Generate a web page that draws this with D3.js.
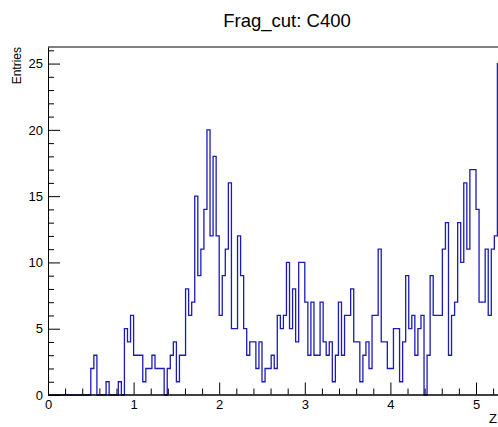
<!DOCTYPE html>
<html>
<head>
<meta charset="utf-8">
<script src="https://cdn.jsdelivr.net/npm/d3@7/dist/d3.min.js"></script>
<style>
  body { margin: 0; background: #fff; }
  svg { display: block; font-family: "Liberation Sans", Arial, Helvetica, sans-serif; }
  .tick text { font-size: 13px; fill: #000; }
</style>
</head>
<body>
<div id="main"></div>
<script>
// histogram binning (Z axis)
var binLow = 0;
var binWidth = 1 / 28;

// entries per bin
var counts = [
  0, 0, 0, 0, 0, 0, 0, 0, 0, 0, 0, 0, 0, 0,
  2, 3, 0, 0, 0, 1, 0, 0, 0, 1, 0, 5, 4, 6, 3, 3,
  3, 1, 2, 2, 3, 2, 2, 2, 0, 2, 3, 4, 1, 3, 3, 8,
  6, 7, 15, 9, 11, 14, 20, 12, 18, 12, 6, 9, 11, 16, 5, 5,
  12, 9, 5, 3, 4, 4, 2, 4, 1, 2, 2, 3, 2, 6, 5, 6,
  10, 5, 8, 4, 10, 10, 7, 3, 7, 3, 3, 7, 4, 3, 4, 1,
  3, 7, 3, 6, 6, 8, 4, 4, 1, 3, 4, 2, 6, 6, 11, 4,
  4, 2, 2, 5, 5, 1, 4, 9, 5, 6, 3, 5, 6, 0, 3, 9,
  6, 6, 6, 11, 13, 3, 6, 7, 13, 10, 16, 11, 17, 17, 14, 7,
  7, 11, 6, 11, 12, 25
];

// axis ticks
var xMajorTicks = [0, 1, 2, 3, 4, 5];
var xMinorTicks = [0.2, 0.4, 0.6, 0.8, 1.2, 1.4, 1.6, 1.8, 2.2, 2.4, 2.6, 2.8,
  3.2, 3.4, 3.6, 3.8, 4.2, 4.4, 4.6, 4.8, 5.2];
var yMajorTicks = [0, 5, 10, 15, 20, 25];
var yMinorTicks = [1, 2, 3, 4, 6, 7, 8, 9, 11, 12, 13, 14, 16, 17, 18, 19, 21, 22, 23, 24, 26];

var titleText = 'Frag_cut: C400';
var xTitle = 'Z';
var yTitle = 'Entries';

// layout
var svgWidth = 498;
var svgHeight = 427;
var frame = { l: 48, t: 47, b: 395 };
var pxPerUnit = 85.6;
var xMax = 5.3;
var yMax = 26.25;

var svg = d3.select('#main')
  .append('svg')
  .attr('width', svgWidth)
  .attr('height', svgHeight);

var xScale = d3.scaleLinear()
  .domain([0, xMax])
  .range([frame.l, frame.l + xMax * pxPerUnit]);

var yScale = d3.scaleLinear()
  .domain([0, yMax])
  .range([frame.b, frame.t]);

// histogram outline (step line)
var points = counts.map((c, i) => [binLow + i * binWidth, c]);
points.push([binLow + counts.length * binWidth, counts[counts.length - 1]]);
points.push([binLow + counts.length * binWidth, 0]);

svg.append('path')
  .attr('d', d3.line()
    .x((d) => xScale(d[0]))
    .y((d) => yScale(d[1]))
    .curve(d3.curveStepAfter)(points))
  .attr('fill', 'none')
  .attr('stroke', '#1c1cb4')
  .attr('stroke-width', 1.3);

// frame top line
svg.append('line')
  .attr('x1', frame.l).attr('x2', xScale(xMax))
  .attr('y1', frame.t).attr('y2', frame.t)
  .attr('stroke', '#000');

// x axis: major ticks with labels, minor ticks without
// (shifted half a pixel so the axis line sits on the histogram baseline)
var xAxisG = svg.append('g')
  .attr('transform', 'translate(0,' + (frame.b - 0.5) + ')')
  .call(d3.axisBottom(xScale)
    .tickValues(xMajorTicks)
    .tickFormat(d3.format('d'))
    .tickSizeInner(-12)
    .tickSizeOuter(0)
    .tickPadding(5));

svg.append('g')
  .attr('transform', 'translate(0,' + (frame.b - 0.5) + ')')
  .call(d3.axisBottom(xScale)
    .tickValues(xMinorTicks)
    .tickFormat('')
    .tickSizeInner(-6)
    .tickSizeOuter(0))
  .select('.domain').remove();

// y axis
svg.append('g')
  .attr('transform', 'translate(' + frame.l + ',0)')
  .call(d3.axisLeft(yScale)
    .tickValues(yMajorTicks)
    .tickFormat(d3.format('d'))
    .tickSizeInner(-12)
    .tickSizeOuter(0)
    .tickPadding(5));

svg.append('g')
  .attr('transform', 'translate(' + frame.l + ',0)')
  .call(d3.axisLeft(yScale)
    .tickValues(yMinorTicks)
    .tickFormat('')
    .tickSizeInner(-6)
    .tickSizeOuter(0))
  .select('.domain').remove();

svg.selectAll('.domain, .tick line').attr('stroke', '#000');

// thicker baseline so it covers the empty bins of the histogram
xAxisG.select('.domain').attr('stroke-width', 1.6);

// titles
svg.append('text')
  .text(titleText)
  .attr('x', 287)
  .attr('y', 27)
  .attr('text-anchor', 'middle')
  .style('font-size', '18.5px');

svg.append('text')
  .text(xTitle)
  .attr('x', 497)
  .attr('y', 423)
  .attr('text-anchor', 'end')
  .style('font-size', '13px');

svg.append('text')
  .text(yTitle)
  .attr('transform', 'translate(21,' + frame.t + ') rotate(-90)')
  .attr('text-anchor', 'end')
  .style('font-size', '12px');
</script>
</body>
</html>
